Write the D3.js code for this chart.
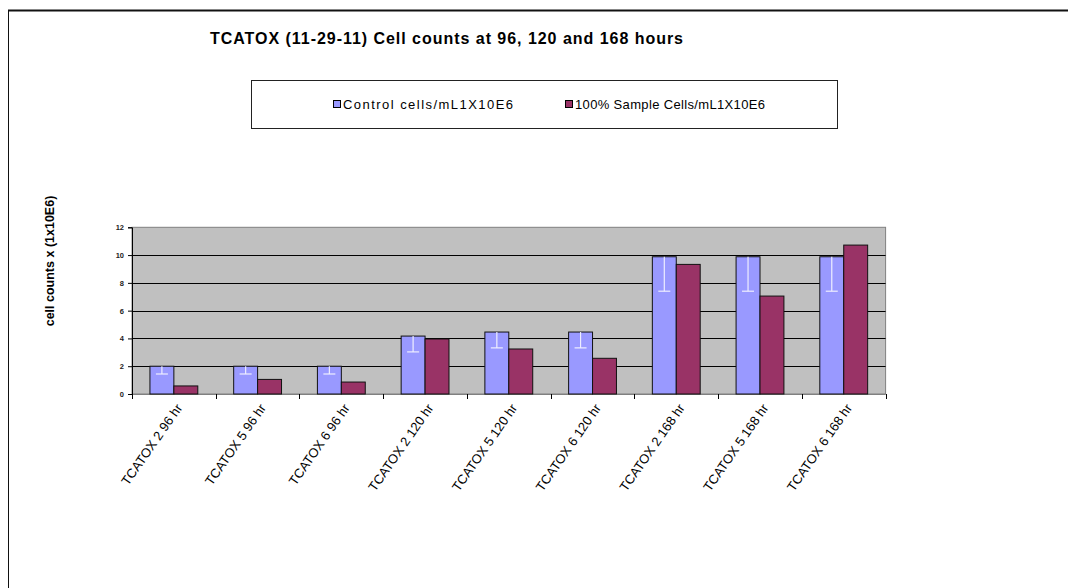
<!DOCTYPE html>
<html>
<head>
<meta charset="utf-8">
<script src="https://cdn.jsdelivr.net/npm/d3@7"></script>
<style>
  body { margin: 0; background: #fff; }
  svg { display: block; font-family: "Liberation Sans", Arial, sans-serif; }
</style>
</head>
<body>
<div id="chart"></div>
<script>
// ---------- data ----------
const categories = [
  "TCATOX 2 96 hr", "TCATOX 5 96 hr", "TCATOX 6 96 hr",
  "TCATOX 2 120 hr", "TCATOX 5 120 hr", "TCATOX 6 120 hr",
  "TCATOX 2 168 hr", "TCATOX 5 168 hr", "TCATOX 6 168 hr"
];
const seriesNames = ["Control cells/mL1X10E6", "100% Sample Cells/mL1X10E6"];
const controlValues = [2.0, 2.0, 2.0, 4.17, 4.46, 4.46, 9.88, 9.88, 9.88];
const controlErrors = [0.56, 0.56, 0.56, 1.14, 1.14, 1.14, 2.48, 2.48, 2.48];
const sampleValues = [0.58, 1.05, 0.86, 3.96, 3.24, 2.57, 9.33, 7.05, 10.72];
const yTicks = [0, 2, 4, 6, 8, 10, 12];
const colors = ["#9999ff", "#993366"];

// ---------- layout ----------
const W = 1068, H = 588;
const plot = {left: 132, right: 885.6, top: 227.3, bottom: 394};

const svg = d3.select("#chart").append("svg")
  .attr("width", W).attr("height", H);

// outer frame (only top and left visible)
svg.append("line").attr("x1", 8).attr("y1", 10.5).attr("x2", W).attr("y2", 10.5)
  .attr("stroke", "#111").attr("stroke-width", 1.8);
svg.append("line").attr("x1", 8.5).attr("y1", 10).attr("x2", 8.5).attr("y2", H)
  .attr("stroke", "#111").attr("stroke-width", 1);

// title
svg.append("text")
  .attr("x", 210).attr("y", 44)
  .attr("textLength", 473).attr("lengthAdjust", "spacing")
  .style("font-weight", "bold").style("font-size", "16px")
  .text("TCATOX (11-29-11) Cell counts at 96, 120 and 168 hours");

// legend
const legend = svg.append("g");
legend.append("rect")
  .attr("x", 251.5).attr("y", 80.5).attr("width", 586).attr("height", 48)
  .attr("fill", "#fff").attr("stroke", "#222").attr("stroke-width", 1);
const legendX = [333, 565];
const legendLen = [170, 190];
seriesNames.forEach((name, i) => {
  legend.append("rect")
    .attr("x", legendX[i] + 0.5).attr("y", 100.5).attr("width", 7).attr("height", 7)
    .attr("fill", colors[i]).attr("stroke", "#000");
  legend.append("text")
    .attr("x", legendX[i] + 10).attr("y", 109)
    .attr("textLength", legendLen[i]).attr("lengthAdjust", "spacing")
    .style("font-size", "13px")
    .text(name);
});

// scales
const x = d3.scaleBand().domain(categories).range([plot.left, plot.right]).padding(0);
const xSub = d3.scaleBand().domain([0, 1]).range([0, x.bandwidth()])
  .paddingInner(0).paddingOuter(0.75);
const y = d3.scaleLinear().domain([0, 12]).range([plot.bottom, plot.top]);

// plot background
svg.append("rect")
  .attr("x", plot.left).attr("y", plot.top)
  .attr("width", plot.right - plot.left).attr("height", plot.bottom - plot.top)
  .attr("fill", "#c0c0c0").attr("stroke", "#808080").attr("stroke-width", 1);

// gridlines
svg.append("g").selectAll("line")
  .data(yTicks.filter(d => d > 0 && d < 12))
  .join("line")
    .attr("x1", plot.left).attr("x2", plot.right)
    .attr("y1", d => Math.round(y(d)) + 0.5).attr("y2", d => Math.round(y(d)) + 0.5)
    .attr("stroke", "#000").attr("stroke-width", 1);

// y axis
const yAxis = svg.append("g")
  .attr("transform", `translate(${plot.left},0)`)
  .call(d3.axisLeft(y).tickValues(yTicks).tickSize(4).tickPadding(4));
yAxis.select(".domain").attr("stroke", "#000");
yAxis.selectAll("text").style("font-size", "7.5px").style("font-weight", "bold")
  .attr("fill", "#222").style("font-family", "'Liberation Sans', Arial, sans-serif");

// x axis (ticks at category boundaries)
const xBounds = d3.range(categories.length + 1).map(i => plot.left + i * x.step());
svg.append("line")
  .attr("x1", plot.left).attr("x2", plot.right)
  .attr("y1", plot.bottom + 0.5).attr("y2", plot.bottom + 0.5)
  .attr("stroke", "#808080");
svg.append("g").selectAll("line")
  .data(xBounds)
  .join("line")
    .attr("x1", d => Math.round(d) + 0.5).attr("x2", d => Math.round(d) + 0.5)
    .attr("y1", plot.bottom).attr("y2", plot.bottom + 5)
    .attr("stroke", "#000");

// x labels
svg.append("g").selectAll("text")
  .data(categories)
  .join("text")
    .attr("transform", d => `translate(${x(d) + x.bandwidth() / 2 + 9},${plot.bottom + 14}) rotate(-55)`)
    .attr("text-anchor", "end")
    .style("font-size", "13px")
    .text(d => d);

// bars
const rows = categories.map((c, i) => ({
  cat: c,
  vals: [controlValues[i], sampleValues[i]],
  err: controlErrors[i]
}));
const groups = svg.append("g").selectAll("g")
  .data(rows)
  .join("g")
    .attr("transform", d => `translate(${x(d.cat)},0)`);

groups.selectAll("rect")
  .data(d => d.vals.map((v, i) => ({v, i})))
  .join("rect")
    .attr("x", d => xSub(d.i))
    .attr("y", d => y(d.v))
    .attr("width", xSub.bandwidth())
    .attr("height", d => plot.bottom - y(d.v))
    .attr("fill", d => colors[d.i])
    .attr("stroke", "#111").attr("stroke-width", 1);

// minus error bars on control series
const errG = groups.append("g").attr("stroke", "#eeeeff").attr("stroke-width", 1.2);
errG.append("line")
  .attr("x1", d => xSub(0) + xSub.bandwidth() / 2).attr("x2", d => xSub(0) + xSub.bandwidth() / 2)
  .attr("y1", d => y(d.vals[0])).attr("y2", d => y(d.vals[0] - d.err));
errG.append("line")
  .attr("x1", d => xSub(0) + xSub.bandwidth() / 2 - 6).attr("x2", d => xSub(0) + xSub.bandwidth() / 2 + 6)
  .attr("y1", d => y(d.vals[0] - d.err)).attr("y2", d => y(d.vals[0] - d.err));

// y axis title
svg.append("text")
  .attr("transform", `translate(54,${(195 + 327) / 2}) rotate(-90)`)
  .attr("text-anchor", "middle")
  .style("font-weight", "bold").style("font-size", "12.5px")
  .text("cell counts x (1x10E6)");
</script>
</body>
</html>
